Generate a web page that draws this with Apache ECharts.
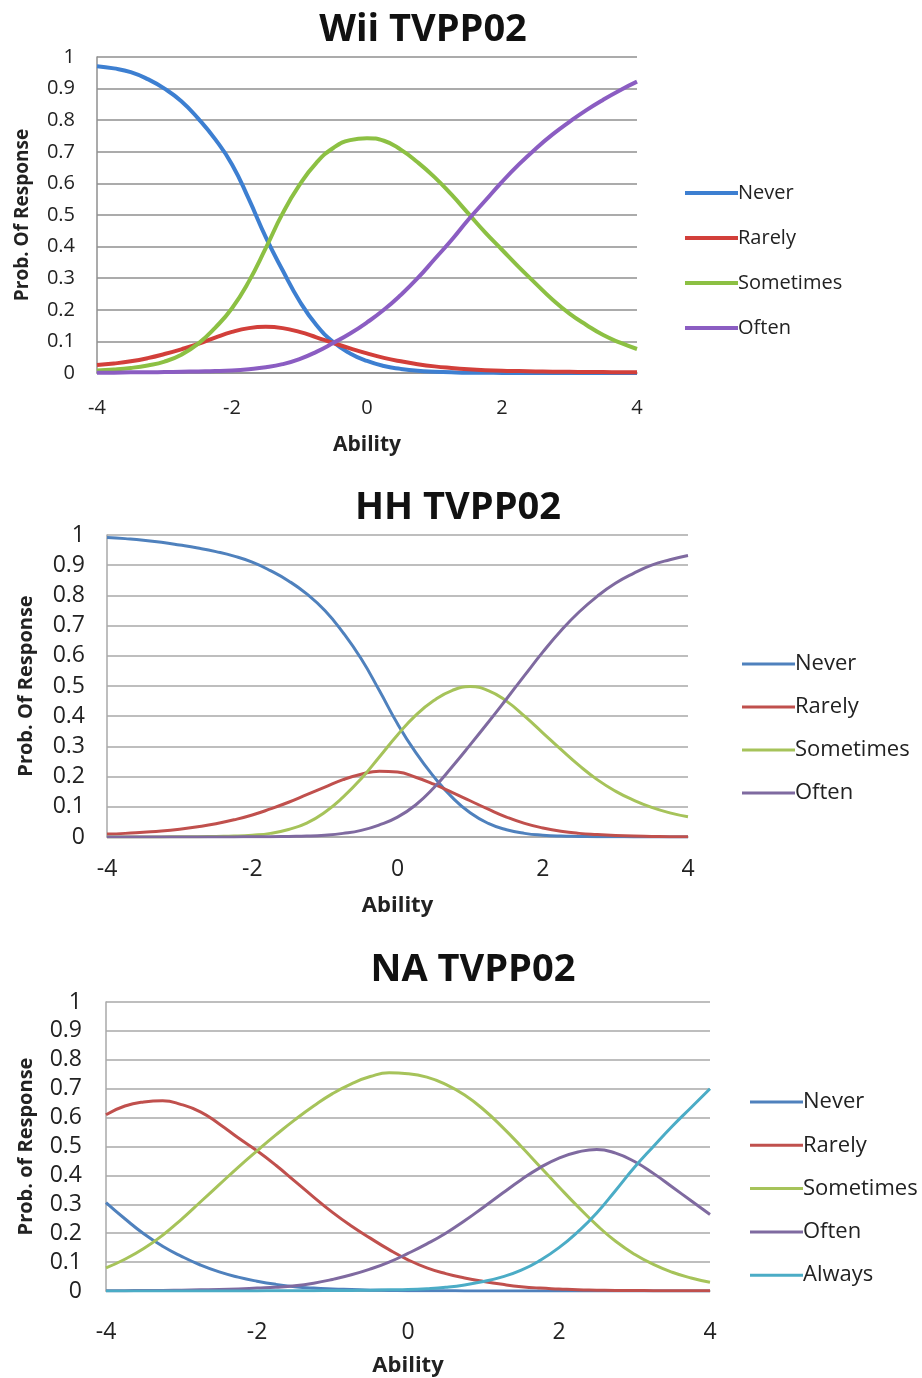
<!DOCTYPE html>
<html>
<head>
<meta charset="utf-8">
<script src="https://cdn.jsdelivr.net/npm/echarts@6/dist/echarts.min.js"></script>
<style>
html,body{margin:0;padding:0;background:#fff;}
#main{width:922px;height:1378px;}
</style>
</head>
<body>
<div id="main"></div>
<script>
// ---- data ----
var theta = [-4,-3.75,-3.5,-3.25,-3,-2.75,-2.5,-2.25,-2,-1.75,-1.5,-1.25,-1,-0.75,-0.5,-0.25,0,
             0.25,0.5,0.75,1,1.25,1.5,1.75,2,2.25,2.5,2.75,3,3.25,3.5,3.75,4];
var xTicks = [-4,-2,0,2,4];

// Wii TVPP02
var never1     = [0.971,0.964,0.952,0.93,0.90,0.86,0.805,0.74,0.66,0.55,0.43,0.325,0.228,0.152,0.098,0.062,0.038,
                  0.022,0.013,0.007,0.004,0.002,0.001,0.001,0,0,0,0,0,0,0,0,0];
var rarely1    = [0.025,0.03,0.037,0.047,0.06,0.075,0.092,0.112,0.13,0.142,0.146,0.142,0.13,0.113,0.095,0.078,0.062,
                  0.048,0.037,0.028,0.021,0.016,0.012,0.009,0.007,0.006,0.005,0.004,0.004,0.003,0.003,0.002,0.002];
var sometimes1 = [0.008,0.011,0.016,0.024,0.036,0.058,0.093,0.143,0.205,0.29,0.395,0.505,0.595,0.665,0.712,0.737,0.743,
                  0.735,0.707,0.667,0.62,0.565,0.505,0.445,0.39,0.335,0.283,0.232,0.188,0.152,0.12,0.096,0.076];
var often1     = [0.001,0.001,0.002,0.002,0.003,0.004,0.005,0.006,0.008,0.012,0.018,0.028,0.044,0.067,0.095,0.125,0.16,
                  0.2,0.247,0.3,0.36,0.42,0.485,0.545,0.605,0.66,0.71,0.755,0.795,0.832,0.865,0.895,0.922];

// HH TVPP02
var never2     = [0.992,0.988,0.983,0.976,0.967,0.957,0.945,0.93,0.91,0.882,0.848,0.805,0.75,0.677,0.59,0.485,0.375,
                  0.28,0.2,0.132,0.08,0.045,0.024,0.012,0.006,0.003,0.002,0.001,0.001,0,0,0,0];
var rarely2    = [0.01,0.012,0.016,0.02,0.026,0.034,0.044,0.057,0.073,0.093,0.115,0.14,0.165,0.19,0.208,0.218,0.215,
                  0.198,0.175,0.148,0.12,0.092,0.066,0.045,0.03,0.019,0.012,0.008,0.005,0.003,0.002,0.001,0.001];
var sometimes2 = [0,0,0,0,0.001,0.001,0.002,0.003,0.006,0.012,0.025,0.046,0.082,0.132,0.193,0.265,0.338,
                  0.403,0.452,0.485,0.498,0.485,0.45,0.4,0.345,0.29,0.237,0.19,0.152,0.122,0.098,0.08,0.067];
var often2     = [0,0,0,0,0,0,0,0,0.001,0.001,0.002,0.003,0.006,0.012,0.022,0.04,0.066,
                  0.106,0.163,0.232,0.305,0.38,0.457,0.535,0.612,0.683,0.745,0.797,0.84,0.873,0.9,0.918,0.932];

// NA TVPP02
var never3     = [0.306,0.25,0.198,0.155,0.12,0.09,0.066,0.048,0.034,0.023,0.015,0.01,0.007,0.005,0.003,0.002,0.001,
                  0.001,0.001,0,0,0,0,0,0,0,0,0,0,0,0,0,0];
var rarely3    = [0.61,0.64,0.654,0.658,0.645,0.62,0.578,0.53,0.485,0.435,0.38,0.325,0.272,0.225,0.183,0.143,0.108,
                  0.08,0.06,0.045,0.033,0.023,0.015,0.01,0.007,0.004,0.003,0.002,0.002,0.001,0.001,0.001,0.001];
var sometimes3 = [0.08,0.11,0.147,0.193,0.248,0.308,0.368,0.428,0.485,0.54,0.592,0.64,0.683,0.717,0.742,0.755,0.752,
                  0.74,0.715,0.678,0.628,0.567,0.5,0.43,0.36,0.292,0.228,0.172,0.127,0.092,0.065,0.045,0.03];
var often3     = [0.001,0.001,0.002,0.002,0.003,0.004,0.005,0.007,0.01,0.013,0.018,0.027,0.04,0.056,0.076,0.1,0.13,
                  0.163,0.2,0.243,0.29,0.338,0.385,0.427,0.46,0.481,0.49,0.477,0.448,0.407,0.36,0.312,0.265];
var always3    = [0,0,0,0,0,0,0,0,0,0.001,0.001,0.001,0.002,0.002,0.003,0.004,0.005,
                  0.008,0.013,0.021,0.033,0.049,0.072,0.106,0.15,0.205,0.27,0.348,0.428,0.5,0.57,0.635,0.70];

var titles = ['Wii TVPP02','HH TVPP02','NA TVPP02'];
var yTitles = ['Prob. Of Response','Prob. Of Response','Prob. of Response'];
var names1 = ['Never','Rarely','Sometimes','Often'];
var names3 = ['Never','Rarely','Sometimes','Often','Always'];

// ---- styles ----
var FONT = '"Open Sans", sans-serif';
var colors1 = ['#3d7fd1','#d23f3a','#8cc043','#8b5dc2'];
var colors2 = ['#4f81bd','#c0504d','#a6c35a','#7f6aa0','#4bacc6'];

var panels = [
  {grid:{left:97,top:57,width:540,height:316}, sets:[never1,rarely1,sometimes1,often1], names:names1, colors:colors1, lw:4,
   title:[423,30], legend:{left:680,top:177,gap:23}, tick:20, gridColor:'#8f8f8f', ygap:65, xgap:62, xmargin:25, ymargin:22, fs:21, lfs:20, yfs:19},
  {grid:{left:107,top:535,width:581,height:302}, sets:[never2,rarely2,sometimes2,often2], names:names1, colors:colors2, lw:3,
   title:[458,508], legend:{left:737,top:648,gap:21}, tick:23, gridColor:'#a8a8a8', ygap:71, xgap:58, xmargin:21, ymargin:22, fs:22, lfs:22, yfs:20},
  {grid:{left:106,top:1002,width:604,height:296}, sets:[never3,rarely3,sometimes3,often3,always3], names:names3, colors:colors2, lw:3,
   title:[473,970], legend:{left:745,top:1086,gap:21.3}, tick:23, gridColor:'#a8a8a8', ygap:70, xgap:64, xmargin:30, ymargin:24, fs:22, lfs:22, yfs:20}
];

var option = {
  animation:false,
  backgroundColor:'#fff',
  grid:[], xAxis:[], yAxis:[], series:[], legend:[], graphic:[]
};

panels.forEach(function(p, i){
  option.grid.push(p.grid);
  option.xAxis.push({
    type:'value', gridIndex:i, min:-4, max:4, interval:2,
    name:'Ability', nameLocation:'middle', nameGap:p.xgap,
    nameTextStyle:{fontFamily:FONT, fontWeight:'bold', fontSize:p.fs, color:'#222'},
    axisLine:{show:true, onZero:false, lineStyle:{color:p.gridColor, width:1.5}},
    axisTick:{show:false},
    splitLine:{show:false},
    axisLabel:{fontFamily:FONT, fontSize:p.tick, color:'#222', margin:p.xmargin,
      formatter:function(v){ return xTicks.indexOf(v) >= 0 ? String(v) : ''; }}
  });
  option.yAxis.push({
    type:'value', gridIndex:i, min:0, max:1, interval:0.1,
    name:yTitles[i], nameLocation:'middle', nameGap:p.ygap, nameRotate:90,
    nameTextStyle:{fontFamily:FONT, fontWeight:'bold', fontSize:p.yfs, color:'#222'},
    axisLine:{show:true, onZero:false, lineStyle:{color:p.gridColor, width:1.5}},
    axisTick:{show:false},
    splitLine:{show:true, lineStyle:{color:p.gridColor, width:1.5}},
    axisLabel:{fontFamily:FONT, fontSize:p.tick, color:'#222', margin:p.ymargin,
      formatter:function(v){ return String(Math.round(v*10)/10); }}
  });
  var legendData = [];
  p.sets.forEach(function(vals, k){
    option.series.push({
      type:'line', name:p.names[k], xAxisIndex:i, yAxisIndex:i,
      data: theta.map(function(t, j){ return [t, vals[j]]; }),
      smooth:0.5, showSymbol:false, symbol:'none',
      lineStyle:{color:p.colors[k], width:p.lw},
      itemStyle:{color:p.colors[k]},
      z: 2 + k
    });
    legendData.push({name:p.names[k], itemStyle:{color:p.colors[k]}, lineStyle:{color:p.colors[k]}});
  });
  option.legend.push({
    orient:'vertical', left:p.legend.left, top:p.legend.top,
    itemWidth:53, itemHeight:p.lw, icon:'rect', selectedMode:false,
    data:legendData, itemGap:p.legend.gap,
    textStyle:{fontFamily:FONT, fontSize:p.lfs, color:'#222', lineHeight:22, padding:[0,0,0,-5]}
  });
  option.graphic.push({
    type:'text', x:p.title[0], y:p.title[1],
    style:{text:titles[i], font:'bold 38px ' + FONT, fill:'#111', textAlign:'center', textVerticalAlign:'middle'}
  });
});

var chart = echarts.init(document.getElementById('main'));
chart.setOption(option);
</script>
</body>
</html>
